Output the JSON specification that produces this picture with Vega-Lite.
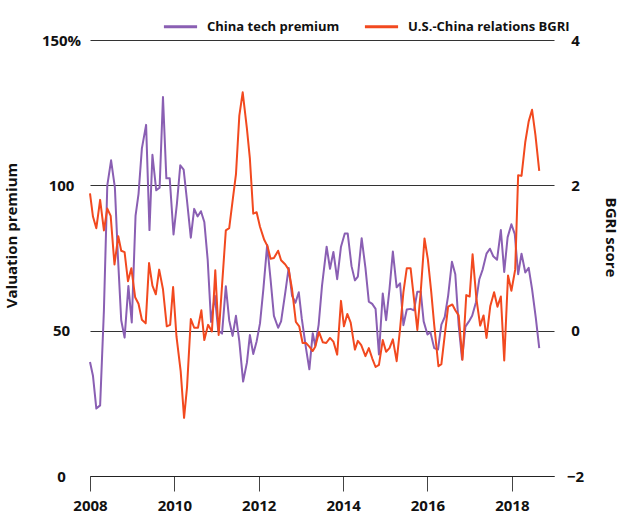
{
"$schema": "https://vega.github.io/schema/vega-lite/v6.json",
"width": 464, "height": 436,
"autosize": {"type": "none"},
"padding": {"left": 90, "top": 40, "right": 66, "bottom": 48},
"background": "white",
"config": {"font": "Open Sans", "view": {"stroke": null}},
"datasets": {
"premium": [
{"year":2008.00,"value":39.2},{"year":2008.07,"value":34.5},{"year":2008.15,"value":23.2},{"year":2008.24,"value":24.3},{"year":2008.33,"value":57},{"year":2008.41,"value":100},{"year":2008.50,"value":108.6},{"year":2008.59,"value":99.2},{"year":2008.66,"value":76},{"year":2008.74,"value":53.6},{"year":2008.82,"value":47.6},{"year":2008.91,"value":65.4},{"year":2008.99,"value":52.8},{"year":2009.08,"value":89.6},{"year":2009.15,"value":97},{"year":2009.23,"value":112.7},{"year":2009.33,"value":120.8},{"year":2009.41,"value":84.6},{"year":2009.48,"value":110.5},{"year":2009.57,"value":98.3},{"year":2009.65,"value":99.2},{"year":2009.73,"value":130.4},{"year":2009.81,"value":102.4},{"year":2009.89,"value":102.4},{"year":2009.98,"value":83.1},{"year":2010.06,"value":93.6},{"year":2010.14,"value":106.9},{"year":2010.22,"value":105.4},{"year":2010.30,"value":94.7},{"year":2010.39,"value":82},{"year":2010.47,"value":91.9},{"year":2010.55,"value":89.3},{"year":2010.63,"value":91.1},{"year":2010.71,"value":87.4},{"year":2010.79,"value":74.4},{"year":2010.87,"value":53},{"year":2010.96,"value":62},{"year":2011.04,"value":50},{"year":2011.13,"value":49},{"year":2011.22,"value":65.3},{"year":2011.30,"value":53.6},{"year":2011.38,"value":48.2},{"year":2011.46,"value":55.1},{"year":2011.54,"value":46.3},{"year":2011.63,"value":32.5},{"year":2011.72,"value":39},{"year":2011.79,"value":48.5},{"year":2011.87,"value":42},{"year":2011.95,"value":46.3},{"year":2012.03,"value":52.5},{"year":2012.11,"value":64.3},{"year":2012.20,"value":79.5},{"year":2012.28,"value":67.7},{"year":2012.36,"value":55.1},{"year":2012.46,"value":51},{"year":2012.53,"value":53.2},{"year":2012.63,"value":63.2},{"year":2012.71,"value":71.6},{"year":2012.79,"value":62},{"year":2012.87,"value":59.6},{"year":2012.95,"value":63.2},{"year":2013.02,"value":54.2},{"year":2013.12,"value":44},{"year":2013.20,"value":36.7},{"year":2013.28,"value":49.1},{"year":2013.34,"value":44.8},{"year":2013.42,"value":52},{"year":2013.50,"value":65.4},{"year":2013.61,"value":78.9},{"year":2013.69,"value":71.3},{"year":2013.77,"value":77.1},{"year":2013.86,"value":67.7},{"year":2013.95,"value":78.9},{"year":2014.04,"value":83.4},{"year":2014.11,"value":83.4},{"year":2014.20,"value":72.2},{"year":2014.28,"value":67.3},{"year":2014.35,"value":68.6},{"year":2014.44,"value":81.8},{"year":2014.53,"value":71.6},{"year":2014.61,"value":60},{"year":2014.69,"value":59.2},{"year":2014.77,"value":57.5},{"year":2014.85,"value":41.8},{"year":2014.94,"value":62.8},{"year":2015.02,"value":53.6},{"year":2015.10,"value":64.3},{"year":2015.18,"value":77.2},{"year":2015.27,"value":64.9},{"year":2015.35,"value":66.3},{"year":2015.43,"value":51.9},{"year":2015.51,"value":57.3},{"year":2015.60,"value":57.5},{"year":2015.68,"value":57},{"year":2015.76,"value":63.4},{"year":2015.84,"value":63.4},{"year":2015.91,"value":53.2},{"year":2016.00,"value":48.7},{"year":2016.07,"value":49.5},{"year":2016.16,"value":44},{"year":2016.25,"value":43.5},{"year":2016.33,"value":52.1},{"year":2016.41,"value":54.7},{"year":2016.49,"value":62},{"year":2016.58,"value":73.7},{"year":2016.66,"value":69.4},{"year":2016.74,"value":51.9},{"year":2016.82,"value":40.1},{"year":2016.90,"value":51.4},{"year":2016.98,"value":53.1},{"year":2017.06,"value":55.1},{"year":2017.15,"value":59.8},{"year":2017.23,"value":67.7},{"year":2017.31,"value":71.1},{"year":2017.40,"value":76.5},{"year":2017.48,"value":78.2},{"year":2017.56,"value":75.6},{"year":2017.65,"value":74.4},{"year":2017.74,"value":84.6},{"year":2017.82,"value":70.2},{"year":2017.90,"value":82.1},{"year":2017.99,"value":86.6},{"year":2018.07,"value":83.2},{"year":2018.15,"value":69.4},{"year":2018.23,"value":76.5},{"year":2018.32,"value":70},{"year":2018.40,"value":71.6},{"year":2018.48,"value":64.3},{"year":2018.57,"value":54.2},{"year":2018.65,"value":44}
],
"bgri": [
{"year":2008.00,"value":1.89},{"year":2008.07,"value":1.57},{"year":2008.15,"value":1.41},{"year":2008.24,"value":1.80},{"year":2008.33,"value":1.38},{"year":2008.41,"value":1.68},{"year":2008.49,"value":1.58},{"year":2008.58,"value":0.91},{"year":2008.67,"value":1.30},{"year":2008.74,"value":1.10},{"year":2008.82,"value":1.08},{"year":2008.90,"value":0.68},{"year":2008.98,"value":0.86},{"year":2009.07,"value":0.46},{"year":2009.15,"value":0.37},{"year":2009.23,"value":0.15},{"year":2009.32,"value":0.10},{"year":2009.40,"value":0.93},{"year":2009.48,"value":0.62},{"year":2009.56,"value":0.50},{"year":2009.64,"value":0.84},{"year":2009.73,"value":0.57},{"year":2009.82,"value":0.06},{"year":2009.90,"value":0.08},{"year":2009.97,"value":0.60},{"year":2010.05,"value":-0.08},{"year":2010.15,"value":-0.56},{"year":2010.23,"value":-1.20},{"year":2010.30,"value":-0.78},{"year":2010.39,"value":0.16},{"year":2010.47,"value":0.04},{"year":2010.56,"value":0.04},{"year":2010.64,"value":0.28},{"year":2010.71,"value":-0.13},{"year":2010.80,"value":0.08},{"year":2010.89,"value":-0.01},{"year":2010.97,"value":0.83},{"year":2011.05,"value":-0.06},{"year":2011.13,"value":0.62},{"year":2011.22,"value":1.38},{"year":2011.30,"value":1.41},{"year":2011.39,"value":1.83},{"year":2011.46,"value":2.15},{"year":2011.54,"value":2.96},{"year":2011.62,"value":3.28},{"year":2011.72,"value":2.78},{"year":2011.79,"value":2.37},{"year":2011.87,"value":1.61},{"year":2011.95,"value":1.63},{"year":2012.03,"value":1.43},{"year":2012.13,"value":1.25},{"year":2012.21,"value":1.16},{"year":2012.28,"value":0.99},{"year":2012.36,"value":1.0},{"year":2012.46,"value":1.10},{"year":2012.53,"value":0.97},{"year":2012.63,"value":0.91},{"year":2012.71,"value":0.84},{"year":2012.79,"value":0.57},{"year":2012.88,"value":0.12},{"year":2012.96,"value":0.06},{"year":2013.04,"value":-0.17},{"year":2013.12,"value":-0.17},{"year":2013.20,"value":-0.22},{"year":2013.28,"value":-0.28},{"year":2013.34,"value":-0.22},{"year":2013.43,"value":-0.02},{"year":2013.52,"value":-0.16},{"year":2013.60,"value":-0.17},{"year":2013.69,"value":-0.10},{"year":2013.77,"value":-0.15},{"year":2013.86,"value":-0.33},{"year":2013.95,"value":0.41},{"year":2014.02,"value":0.06},{"year":2014.10,"value":0.23},{"year":2014.18,"value":0.11},{"year":2014.28,"value":-0.26},{"year":2014.35,"value":-0.14},{"year":2014.43,"value":-0.20},{"year":2014.53,"value":-0.35},{"year":2014.61,"value":-0.24},{"year":2014.69,"value":-0.38},{"year":2014.77,"value":-0.50},{"year":2014.85,"value":-0.47},{"year":2014.94,"value":-0.13},{"year":2015.02,"value":-0.29},{"year":2015.10,"value":-0.24},{"year":2015.18,"value":-0.12},{"year":2015.27,"value":-0.42},{"year":2015.35,"value":0.02},{"year":2015.43,"value":0.53},{"year":2015.51,"value":0.86},{"year":2015.60,"value":0.86},{"year":2015.68,"value":0.44},{"year":2015.76,"value":0.01},{"year":2015.84,"value":0.53},{"year":2015.93,"value":1.27},{"year":2016.01,"value":0.98},{"year":2016.09,"value":0.53},{"year":2016.16,"value":0.08},{"year":2016.26,"value":-0.49},{"year":2016.33,"value":-0.46},{"year":2016.41,"value":-0.06},{"year":2016.49,"value":0.33},{"year":2016.59,"value":0.36},{"year":2016.66,"value":0.28},{"year":2016.74,"value":0.21},{"year":2016.83,"value":-0.40},{"year":2016.92,"value":0.49},{"year":2017.00,"value":0.47},{"year":2017.07,"value":1.05},{"year":2017.16,"value":0.44},{"year":2017.25,"value":0.07},{"year":2017.33,"value":0.21},{"year":2017.40,"value":-0.10},{"year":2017.49,"value":0.34},{"year":2017.58,"value":0.53},{"year":2017.66,"value":0.33},{"year":2017.74,"value":0.47},{"year":2017.82,"value":-0.41},{"year":2017.91,"value":0.76},{"year":2017.99,"value":0.55},{"year":2018.08,"value":0.84},{"year":2018.15,"value":2.14},{"year":2018.23,"value":2.13},{"year":2018.32,"value":2.60},{"year":2018.40,"value":2.88},{"year":2018.48,"value":3.04},{"year":2018.56,"value":2.69},{"year":2018.65,"value":2.20}
]
},
"layer": [
{
"data": {"name": "premium"},
"mark": {"type": "line", "strokeWidth": 2, "strokeJoin": "round"},
"encoding": {
"x": {"field": "year", "type": "quantitative", "scale": {"domain": [2008, 2019], "nice": false, "zero": false},
  "axis": {"title": null, "values": [2008, 2010, 2012, 2014, 2016, 2018], "format": "d", "grid": false, "domainColor": "#222222", "domainWidth": 1.2, "tickColor": "#444444", "tickSize": 15, "tickWidth": 1, "labelPadding": 7, "labelFontSize": 15, "labelFontWeight": "bold", "labelColor": "#111111", "labelFlush": false}},
"y": {"field": "value", "type": "quantitative", "scale": {"domain": [0, 150], "nice": false},
  "axis": {"title": "Valuation premium", "values": [0, 50, 100, 150], "labelExpr": "datum.value === 150 ? '150%' : datum.label", "grid": true, "gridColor": "#333333", "gridWidth": 1.2, "domain": false, "ticks": false, "labelAlign": "center", "labelPadding": 29, "labelFontSize": 15, "labelFontWeight": "bold", "labelColor": "#111111", "titleFontSize": 15, "titleFontWeight": "bold", "titleColor": "#111111", "titleAngle": -90, "titleX": -74, "titleY": 195, "titleAlign": "center", "titleBaseline": "alphabetic"}},
"color": {"datum": "China tech premium", "type": "nominal",
  "scale": {"domain": ["China tech premium", "U.S.-China relations BGRI"], "range": ["#8a5fb3", "#f2491f"]},
  "legend": {"orient": "none", "legendX": 72, "legendY": -32, "direction": "horizontal", "title": null, "symbolType": "stroke", "symbolStrokeWidth": 3, "symbolSize": 1100, "labelFontSize": 13, "labelFontWeight": "bold", "labelColor": "#111111", "labelLimit": 400, "columnPadding": 18, "labelOffset": 8, "padding": 0}}
}
},
{
"data": {"name": "bgri"},
"mark": {"type": "line", "strokeWidth": 2, "strokeJoin": "round"},
"encoding": {
"x": {"field": "year", "type": "quantitative", "scale": {"domain": [2008, 2019], "nice": false, "zero": false}},
"y": {"field": "value", "type": "quantitative", "scale": {"domain": [-2, 4], "nice": false, "zero": false},
  "axis": {"orient": "right", "title": "BGRI score", "values": [-2, 0, 2, 4], "grid": false, "domain": false, "ticks": false, "labelAlign": "center", "labelPadding": 21, "labelFontSize": 15, "labelFontWeight": "bold", "labelColor": "#111111", "titleFontSize": 15, "titleFontWeight": "bold", "titleColor": "#111111", "titleAngle": 90, "titleX": 51, "titleY": 197, "titleAlign": "center", "titleBaseline": "alphabetic"}},
"color": {"datum": "U.S.-China relations BGRI", "type": "nominal"}
}
}
],
"resolve": {"scale": {"y": "independent"}}
}
